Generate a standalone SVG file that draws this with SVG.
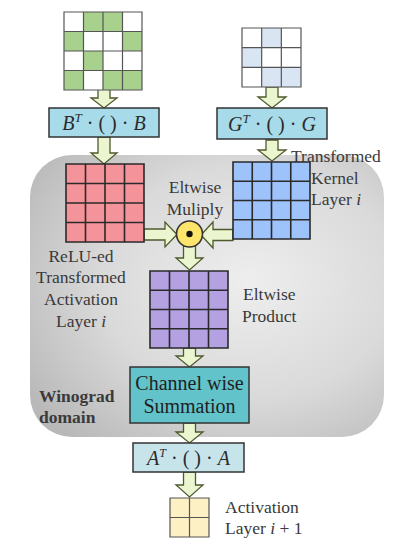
<svg xmlns="http://www.w3.org/2000/svg" width="404" height="551" viewBox="0 0 404 551">
<defs>
<radialGradient id="gbg" cx="0.62" cy="0.45" r="0.75">
<stop offset="0" stop-color="#eeeeee"/>
<stop offset="0.55" stop-color="#dadada"/>
<stop offset="1" stop-color="#b8b8b8"/>
</radialGradient>
<style>
.arr{fill:#ebf5d0;stroke:#4d5a2e;stroke-width:1.3;stroke-linejoin:miter}
.gl{stroke:#2a2a2a;stroke-width:1.6;fill:none}
.gl2{stroke:#555;stroke-width:1.2;fill:none}
.lbl{font-family:"Liberation Serif",serif;font-size:17.5px;fill:#3a3a3a}
.box{stroke:#333;stroke-width:1.5}
.math{font-family:"Liberation Serif",serif;font-size:20px;fill:#2a2a2a}
</style>
</defs>
<rect width="404" height="551" fill="#ffffff"/>
<g id="winograd-domain">
<rect x="30" y="155" width="354" height="282" rx="42" ry="42" fill="url(#gbg)"/>
<text class="lbl" x="39" y="402" font-weight="bold" fill="#2a2a2a">Winograd</text>
<text class="lbl" x="39" y="423" font-weight="bold" fill="#2a2a2a">domain</text>
</g>
<g id="connectors">
<polygon class="arr" points="98,89 110,89 110,98 117,98 104,108 91,98 98,98"/>
<polygon class="arr" points="266,87 278,87 278,97 286,97 272,108 258,97 266,97"/>
<polygon class="arr" points="98,137 110,137 110,153 117,153 104,164 91,153 98,153"/>
<polygon class="arr" points="266,140 278,140 278,150 286,150 272,161 258,150 266,150"/>
<polygon class="arr" points="144,229 165,229 165,222 177,234.5 165,247 165,240 144,240"/>
<polygon class="arr" points="233,229.5 213,229.5 213,222 201,235 213,248 213,240.5 233,240.5"/>
<polygon class="arr" points="183.5,246 195.5,246 195.5,258 203,258 189.5,270 176,258 183.5,258"/>
<polygon class="arr" points="183.5,348 195.5,348 195.5,356 203,356 189.5,367 176,356 183.5,356"/>
<polygon class="arr" points="183.5,423 195.5,423 195.5,432 203,432 189.5,443 176,432 183.5,432"/>
<polygon class="arr" points="183.5,472 195.5,472 195.5,485 203,485 189.5,497 176,485 183.5,485"/>
</g>
<g id="input-activation">
<rect x="64" y="12" width="78" height="78" fill="#ffffff"/>
<rect x="83.5" y="12" width="39" height="19.5" fill="#a9d18e"/>
<rect x="64" y="31.5" width="19.5" height="19.5" fill="#a9d18e"/>
<rect x="122.5" y="31.5" width="19.5" height="19.5" fill="#a9d18e"/>
<rect x="83.5" y="51" width="19.5" height="19.5" fill="#a9d18e"/>
<rect x="64" y="70.5" width="19.5" height="19.5" fill="#a9d18e"/>
<rect x="103" y="70.5" width="39" height="19.5" fill="#a9d18e"/>
<path class="gl2" d="M64,12H142V90H64Z M83.5,12V90 M103,12V90 M122.5,12V90 M64,31.5H142 M64,51H142 M64,70.5H142"/>
</g>
<g id="input-kernel">
<rect x="242" y="28" width="59" height="59" fill="#ffffff"/>
<rect x="261.67" y="28" width="19.67" height="19.67" fill="#dae5f4"/>
<rect x="242" y="47.67" width="19.67" height="19.67" fill="#dae5f4"/>
<rect x="261.67" y="67.33" width="39.33" height="19.67" fill="#dae5f4"/>
<path class="gl2" d="M242,28H301V87H242Z M261.67,28V87 M281.33,28V87 M242,47.67H301 M242,67.33H301"/>
</g>
<g id="b-transform">
<rect class="box" x="49" y="108" width="110" height="29" fill="#a8dbe9"/>
<text class="math" x="104" y="130" text-anchor="middle"><tspan font-style="italic">B</tspan><tspan dy="-8" font-size="13" font-style="italic">T</tspan><tspan dy="8"> · ( ) · </tspan><tspan font-style="italic">B</tspan></text>
</g>
<g id="g-transform">
<rect class="box" x="217" y="108" width="110" height="31" fill="#a8dbe9"/>
<text class="math" x="272" y="131" text-anchor="middle"><tspan font-style="italic">G</tspan><tspan dy="-8" font-size="13" font-style="italic">T</tspan><tspan dy="8"> · ( ) · </tspan><tspan font-style="italic">G</tspan></text>
</g>
<g id="transformed-activation">
<rect x="66" y="164" width="78" height="78" fill="#f5939b"/>
<path class="gl" d="M66,164H144V242H66Z M85.5,164V242 M105,164V242 M124.5,164V242 M66,183.5H144 M66,203H144 M66,222.5H144"/>
<text class="lbl" x="81" y="262" text-anchor="middle">ReLU-ed</text>
<text class="lbl" x="81" y="283" text-anchor="middle">Transformed</text>
<text class="lbl" x="81" y="305" text-anchor="middle">Activation</text>
<text class="lbl" x="81" y="327" text-anchor="middle">Layer <tspan font-style="italic">i</tspan></text>
</g>
<g id="transformed-kernel">
<rect x="233" y="162" width="77" height="77" fill="#9ec2fa"/>
<path class="gl" d="M233,162H310V239H233Z M252.25,162V239 M271.5,162V239 M290.75,162V239 M233,181.25H310 M233,200.5H310 M233,219.75H310"/>
<text class="lbl" x="291" y="162">Transformed</text>
<text class="lbl" x="311" y="184">Kernel</text>
<text class="lbl" x="311" y="205">Layer <tspan font-style="italic">i</tspan></text>
</g>
<g id="eltwise-multiply">
<circle cx="189.5" cy="234" r="13" fill="#fde46a" stroke="#333" stroke-width="1.6"/>
<circle cx="189.5" cy="234" r="3.2" fill="#111"/>
<text class="lbl" x="195" y="193" text-anchor="middle">Eltwise</text>
<text class="lbl" x="195" y="215" text-anchor="middle">Muliply</text>
</g>
<g id="eltwise-product">
<rect x="150" y="271" width="78" height="77" fill="#b3a1e2"/>
<path class="gl" d="M150,271H228V348H150Z M169.5,271V348 M189,271V348 M208.5,271V348 M150,290.25H228 M150,309.5H228 M150,328.75H228"/>
<text class="lbl" x="243" y="300">Eltwise</text>
<text class="lbl" x="242" y="322">Product</text>
</g>
<g id="channel-summation">
<rect class="box" x="130" y="367" width="119" height="56" fill="#62c3cb"/>
<text x="189.5" y="390" text-anchor="middle" font-family="Liberation Serif, serif" font-size="20" fill="#1f1f1f">Channel wise</text>
<text x="189.5" y="413" text-anchor="middle" font-family="Liberation Serif, serif" font-size="20" fill="#1f1f1f">Summation</text>
</g>
<g id="a-transform">
<rect class="box" x="133" y="443" width="111" height="29" fill="#c8e4eb"/>
<text class="math" x="188.5" y="465" text-anchor="middle" font-size="19"><tspan font-style="italic">A</tspan><tspan dy="-8" font-size="12" font-style="italic">T</tspan><tspan dy="8"> · ( ) · </tspan><tspan font-style="italic">A</tspan></text>
</g>
<g id="output-activation">
<rect x="170" y="498" width="39" height="39" fill="#fdf0c4"/>
<path class="gl2" d="M170,498H209V537H170Z M189.5,498V537 M170,517.5H209"/>
<text class="lbl" x="225" y="513">Activation</text>
<text class="lbl" x="225" y="534">Layer <tspan font-style="italic">i</tspan> + 1</text>
</g>
</svg>
